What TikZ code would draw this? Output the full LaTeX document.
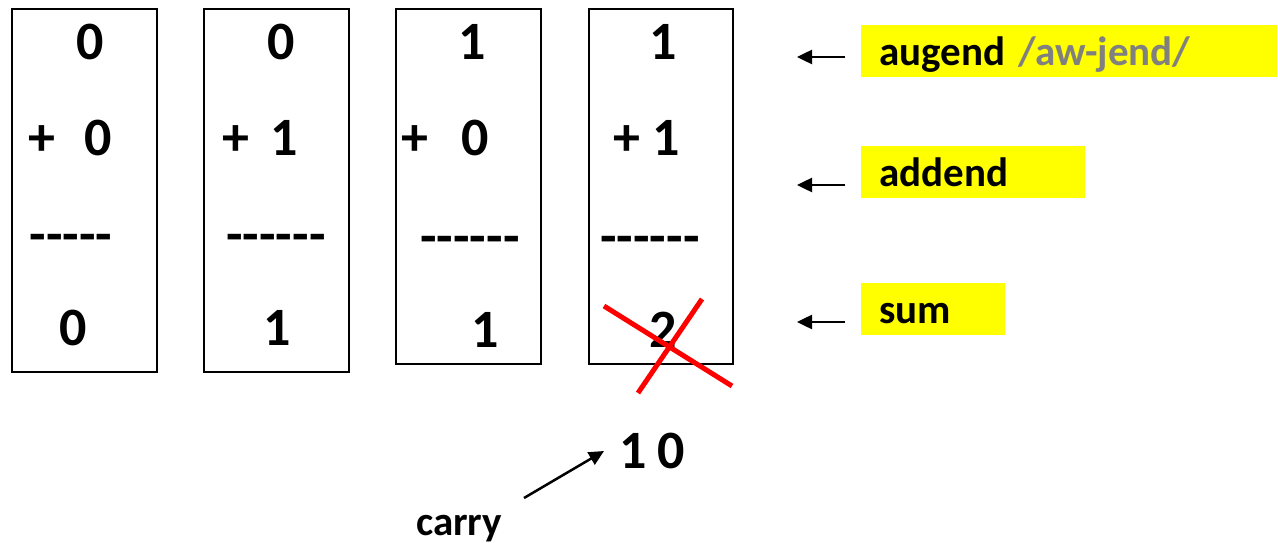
\documentclass[tikz,border=0pt]{standalone}
\usepackage{fontspec}
\setmainfont{Carlito}
\usetikzlibrary{arrows.meta}
\definecolor{hl}{RGB}{255,255,0}
\definecolor{pron}{RGB}{128,128,128}
\begin{document}
\begin{tikzpicture}[x=1pt,y=-1pt,
  colbox/.style={draw=black,line width=1.5pt},
  dig/.style={inner sep=0pt,anchor=base,font=\fontsize{54}{60}\selectfont\bfseries},
  lab/.style={inner xsep=18pt,inner ysep=0pt,fill=hl,anchor=north west,align=left,
     text height=40pt,text depth=12pt,font=\fontsize{41}{46}\selectfont\bfseries},
  pointer/.style={line width=2.5pt,-{Triangle[length=15pt,width=14pt]}},
  cross/.style={draw=red,line width=5pt}]
\useasboundingbox (0,0) rectangle (1278,543);
% boxes
\draw[colbox] (12,9) rectangle (157,372);
\draw[colbox] (204,9) rectangle (349,372);
\draw[colbox] (396,9) rectangle (541,364);
\draw[colbox] (589,9) rectangle (733,364);
% column 1
\node[dig] (c1a) at (90,60) {0};
\node[dig] (c1b) at (70,155) {+\hspace{29pt}0};
\node[dig] (c1l) at (71,252) {-{}-{}-{}-{}-};
\node[dig] (c1s) at (73,345) {0};
% column 2
\node[dig] (c2a) at (281,60) {0};
\node[dig] (c2b) at (260,155) {+\hspace{21pt}1};
\node[dig] (c2l) at (276,252) {-{}-{}-{}-{}-{}-};
\node[dig] (c2s) at (277,345) {1};
% column 3
\node[dig] (c3a) at (472,60) {1};
\node[dig] (c3b) at (445,155) {+\hspace{33pt}0};
\node[dig] (c3l) at (470,254) {-{}-{}-{}-{}-{}-};
\node[dig] (c3s) at (485,347) {1};
% column 4
\node[dig] (c4a) at (663,60) {1};
\node[dig] (c4b) at (647,155) {+\hspace{12pt}1};
\node[dig] (c4l) at (650,254) {-{}-{}-{}-{}-{}-};
\node[dig] (c4s) at (663,347) {2};
% red cross
\draw[cross] (604,306) -- (732,386);
\draw[cross] (702,299) -- (638,393);
% labels
\node[lab,minimum width=416pt,text width=380pt] (aug) at (861,25) {augend \textcolor{pron}{/aw-jend/}};
\node[lab,minimum width=224pt,text width=188pt] (add) at (861,146) {addend};
\node[lab,minimum width=144pt,text width=108pt] (sum) at (861,283) {sum};
% arrows to rows
\coordinate (a1s) at (845,57); \coordinate (a1e) at (797,57);
\coordinate (a2s) at (845,185); \coordinate (a2e) at (797,185);
\coordinate (a3s) at (845,322); \coordinate (a3e) at (797,322);
\draw[pointer] (a1s) -- (a1e);
\draw[pointer] (a2s) -- (a2e);
\draw[pointer] (a3s) -- (a3e);
% carry
\node[dig] (ten) at (652,468) {1\hspace{10pt}0};
\node[inner sep=0pt,anchor=base west,font=\fontsize{41}{46}\selectfont\bfseries] (carry) at (416,535) {carry};
\coordinate (cs) at (524,498);
\coordinate (ce) at (604,451);
\draw[pointer] (cs) -- (ce);
\end{tikzpicture}
\end{document}
